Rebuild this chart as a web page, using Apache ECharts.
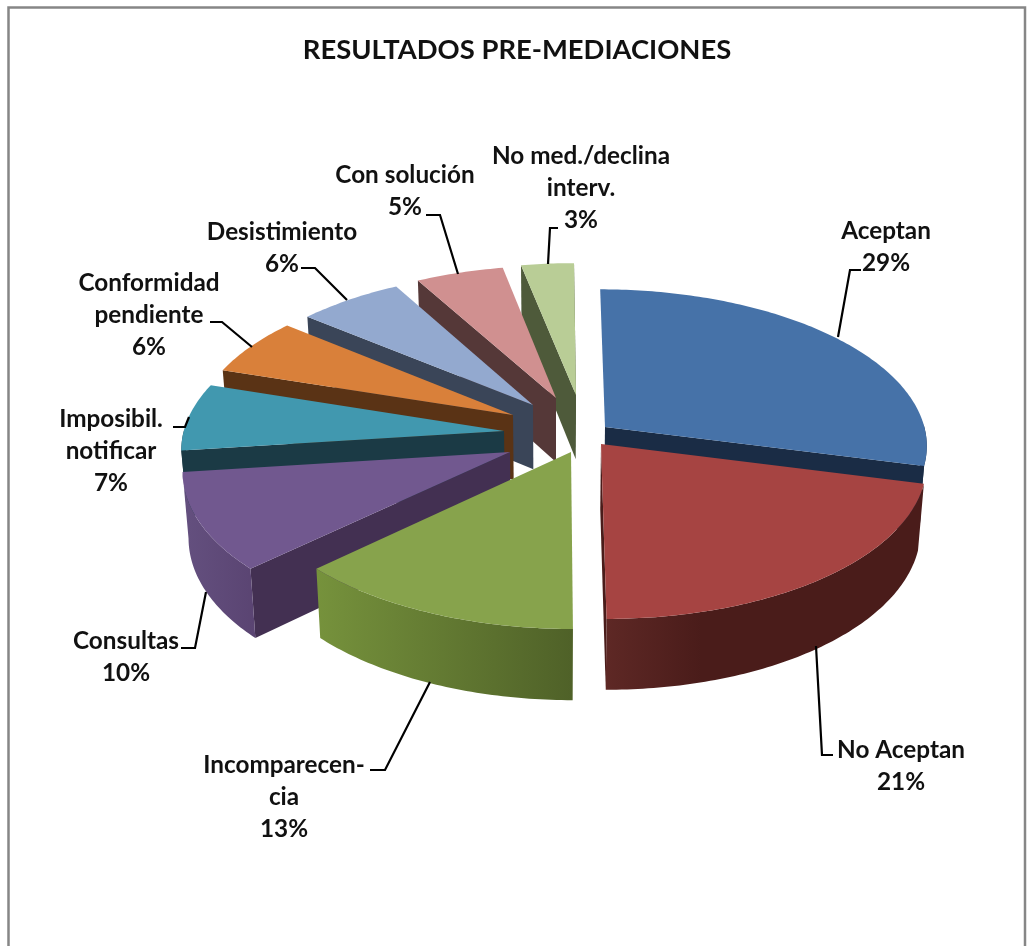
<!DOCTYPE html>
<html><head><meta charset="utf-8">
<style>html,body{margin:0;padding:0;background:#fff}#c{width:1029px;height:946px}</style>
<script src="https://cdn.jsdelivr.net/npm/echarts@6/dist/echarts.min.js"></script>
</head><body><div id="c"></div>
<script>
const chartTitle = 'RESULTADOS PRE-MEDIACIONES';
const categories = ['Aceptan','No Aceptan','Incomparecencia','Consultas','Imposibil. notificar','Conformidad pendiente','Desistimiento','Con solución','No med./declina interv.'];
const values = [29,21,13,10,7,6,6,5,3];
const labelLines = [['Aceptan'],['No Aceptan'],['Incomparecen-','cia'],['Consultas'],['Imposibil.','notificar'],['Conformidad','pendiente'],['Desistimiento'],['Con solución'],['No med./declina','interv.']];

// layout and style (not data)
const topColors  = ['#4672A8','#A64442','#87A34C','#71588F','#4198AF','#D9803A','#93A9CF','#D09090','#B9CD96'];
const cutColors  = ['#1A2C45','#4A1C1A','#4F6128','#433052','#1B3A45','#5A3315','#3A4558','#553838','#4E5A3A'];
const rimLeft    = ['#1A2C45','#5E2825','#76923C','#64507F','#1B3A45','#5A3315','#3A4558','#553838','#4E5A3A'];
const rimRight   = ['#1A2C45','#4A1C1A','#4F6128','#5A4472','#1B3A45','#5A3315','#3A4558','#553838','#4E5A3A'];
const rimStop    = [1,0.3,1,1,1,1,1,1,1];
const apexX = [605,601,571,510,504,513,533,556,576];
const apexY = [427,444,452,452,431,415,405,398,395];
const drawRank = [5,8,7,6,4,3,2,1,0];
const labelX = [886,901,284,126,111,149,282,405,581];
const labelY = [231,750,765,641,419,283,232,175,156];
const leaders = [
  [[838,337],[850,270],[861,270]],
  [[816,646],[822,755],[833,755]],
  [[430,682],[385,770],[370,770]],
  [[206,592],[195,648],[181,648]],
  [[189,417],[185,427],[173,427]],
  [[252,347],[222,322],[210,322]],
  [[347,300],[315,268],[301,268]],
  [[458,274],[440,215],[426,215]],
  [[548,264],[550,228],[558,228]]
];
const font = 'Lato, "Open Sans", sans-serif';
const X0 = 555, Y0 = 430, RX = 320, KY = 153, P = 0.107, DEPTH = 65, BASE = 0.984;
const LINE = 32.3, FS = 24.3;

const total = values.reduce((a,b)=>a+b,0);
function proj(X,Y,low){
  const s = 1/(1-P*Y);
  return [X0 + RX*X*s*(low?BASE:1), Y0 + KY*Y*s + (low?DEPTH*Math.pow(s,0.7):0)];
}
function renderItem(params, api){
  const i = params.dataIndex;
  let before = 0; for(let k=0;k<i;k++) before += values[k];
  const a0 = before/total*2*Math.PI, a1 = (before+api.value(0))/total*2*Math.PI;
  const d = apexY[i]-Y0, wy = d/(KY+P*d), wx = (apexX[i]-X0)*(1-P*wy)/RX;
  const rimT=[], rimF=[]; const n = Math.max(4,Math.round((a1-a0)/0.015));
  for(let k=0;k<=n;k++){
    const a=a0+(a1-a0)*k/n, X=wx+Math.sin(a), Y=wy-Math.cos(a);
    rimT.push(proj(X,Y,false));
    if(Math.cos(a)<0.02) rimF.push([X,Y]);
  }
  const at=(a)=>[wx+Math.sin(a),wy-Math.cos(a)];
  const cT=proj(wx,wy,false), cB=proj(wx,wy,true), r=drawRank[i]*10;
  const poly=(pts,fill,z)=>({type:'polygon',shape:{points:pts},style:{fill:fill,stroke:null},z2:r+z,silent:true});
  const children=[];
  const s0=at(a0), s1=at(a1);
  if(-Math.sin(a0)>1e-9) children.push(poly([cT,proj(s0[0],s0[1],false),proj(s0[0],s0[1],true),cB],cutColors[i],0));
  if(Math.sin(a1)>-1e-9) children.push(poly([cT,proj(s1[0],s1[1],false),proj(s1[0],s1[1],true),cB],cutColors[i],0));
  if(rimF.length>1){
    const up=rimF.map(p=>proj(p[0],p[1],false)), lo=rimF.map(p=>proj(p[0],p[1],true)).reverse();
    children.push(poly(up.concat(lo),new echarts.graphic.LinearGradient(0,0,1,0,[{offset:0,color:rimLeft[i]},{offset:rimStop[i],color:rimRight[i]},{offset:1,color:rimRight[i]}]),1));
  }
  children.push(poly([cT].concat(rimT),topColors[i],2));
  children.push({type:'polyline',shape:{points:leaders[i]},style:{stroke:'#000',lineWidth:2.2,fill:null},z2:200,silent:true});
  const pct=Math.round(api.value(0)/total*100)+'%';
  labelLines[i].concat([pct]).forEach((t,j)=>{
    children.push({type:'text',x:labelX[i],y:labelY[i]+j*LINE,z2:201,silent:true,
      style:{text:t,fill:'#111',fontFamily:font,fontWeight:'bold',fontSize:FS,align:'center',verticalAlign:'middle'}});
  });
  return {type:'group',children:children};
}
const chart = echarts.init(document.getElementById('c'),null,{renderer:'canvas'});
chart.setOption({
  animation:false,
  backgroundColor:'#fff',
  title:{text:chartTitle,left:512,top:32,textAlign:'center',textStyle:{fontFamily:font,fontWeight:'bold',fontSize:27.4,color:'#111'}},
  graphic:[{type:'polyline',shape:{points:[[8.5,946],[8.5,7.5],[1025,7.5],[1025,946]]},style:{stroke:'#868686',lineWidth:2.5,fill:null},silent:true}],
  series:[{type:'custom',coordinateSystem:'none',silent:true,renderItem:renderItem,
    data:categories.map((c,i)=>({name:c,value:[values[i]]}))}]
});
</script></body></html>
